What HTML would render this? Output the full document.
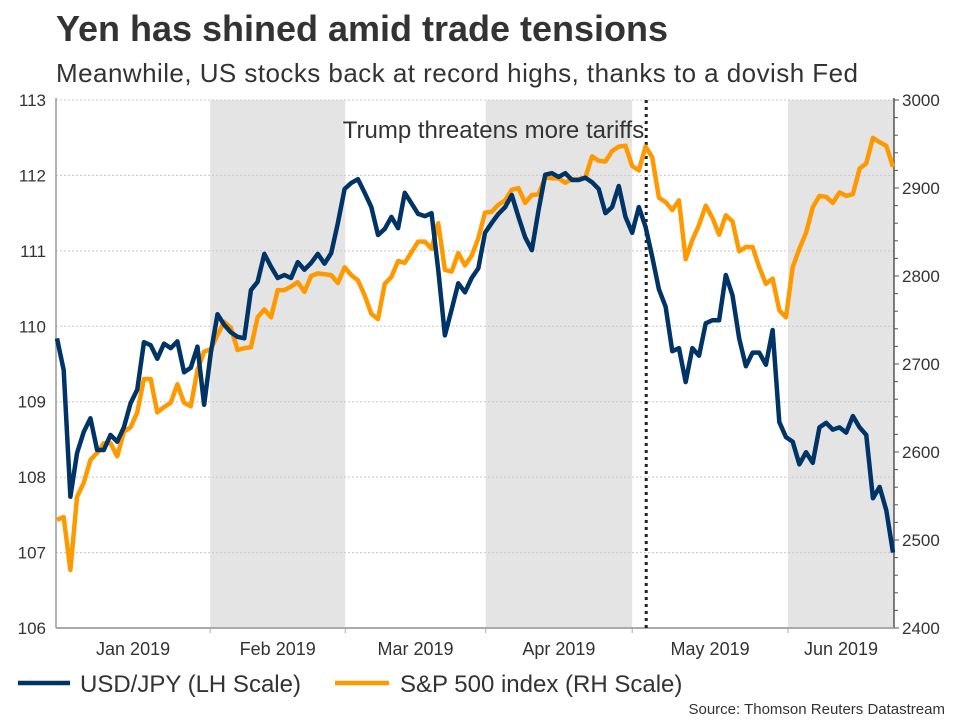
<!DOCTYPE html>
<html><head><meta charset="utf-8"><style>
body{margin:0;background:#fff;width:960px;height:720px;overflow:hidden;font-family:"Liberation Sans",Arial,sans-serif}
</style></head><body>
<svg id="chart" width="960" height="720" xmlns="http://www.w3.org/2000/svg" font-family="Liberation Sans, Arial, sans-serif">
<text x="56" y="41" font-size="36" font-weight="bold" fill="#333" textLength="612">Yen has shined amid trade tensions</text>
<text x="56" y="82" font-size="26" fill="#333" textLength="802">Meanwhile, US stocks back at record highs, thanks to a dovish Fed</text>
<g id="plot"></g>
<text x="945" y="714" font-size="15" text-anchor="end" fill="#333">Source: Thomson Reuters Datastream</text>
</svg>
<script>
const yen = [109.84,109.42,107.74,108.32,108.60,108.78,108.36,108.36,108.56,108.47,108.66,108.98,109.16,109.79,109.75,109.57,109.77,109.71,109.80,109.39,109.45,109.73,108.96,109.65,110.16,110.02,109.92,109.86,109.84,110.48,110.59,110.96,110.79,110.64,110.68,110.64,110.85,110.75,110.84,110.96,110.83,110.97,111.37,111.82,111.90,
111.95,111.77,111.58,111.21,111.29,111.45,111.30,111.77,111.63,111.49,111.46,111.50,110.75,109.88,110.22,110.57,110.45,110.64,110.77,111.24,111.37,111.49,111.58,111.74,111.45,111.18,111.01,111.54,112.01,112.03,111.98,112.03,111.94,111.94,111.97,111.91,111.82,111.50,111.58,111.86,111.45,111.24,
111.58,111.32,110.92,110.49,110.26,109.67,109.71,109.26,109.71,109.61,110.04,110.08,110.08,110.68,110.41,109.84,109.47,109.65,109.65,109.49,109.95,108.73,108.53,108.47,108.17,108.33,108.19,108.66,108.72,108.63,108.66,108.59,108.81,108.66,108.56,107.72,107.87,107.56,107.0];
const spx = [2523,2526,2466,2549,2565,2591,2599,2610,2610,2595,2623,2628,2645,2683,2683,2645,2651,2656,2677,2656,2652,2693,2714,2717,2733,2748,2741,2716,2718,2719,2753,2762,2753,2784,2784,2788,2793,2782,2800,2803,2802,2801,2792,2810,2801,
2795,2778,2757,2751,2791,2799,2817,2815,2827,2839,2839,2831,2860,2807,2805,2826,2812,2823,2843,2872,2873,2881,2886,2898,2900,2883,2892,2893,2912,2911,2911,2906,2910,2910,2912,2936,2931,2930,2942,2947,2948,2925,2920,
2947,2935,2889,2884,2875,2886,2819,2841,2858,2880,2866,2847,2869,2862,2828,2833,2833,2810,2791,2797,2761,2753,2810,2831,2849,2878,2891,2890,2883,2895,2891,2893,2922,2928,2957,2952,2948,2924];
const monthLabels = ["Jan 2019","Feb 2019","Mar 2019","Apr 2019","May 2019","Jun 2019"];
const monthStarts = [-0.5,22.9,43.1,64.1,86.0,109.3,125.5];
const shadedMonths = [1,3,5];
const leftTicks = [106,107,108,109,110,111,112,113];
const rightTicks = [2400,2500,2600,2700,2800,2900,3000];
const eventIndex = 88.1;

const NS="http://www.w3.org/2000/svg";
const g=document.getElementById('plot');
const X0=56,X1=894,Y0=100,Y1=628;
const n=yen.length;
const xs=i=>57+(i)*(893-57)/(n-1);
const yL=v=>Y1-(v-106)/(113-106)*(Y1-Y0);
const yR=v=>Y1-(v-2400)/(3000-2400)*(Y1-Y0);
function el(t,a){const e=document.createElementNS(NS,t);for(const k in a)e.setAttribute(k,a[k]);g.appendChild(e);return e;}

shadedMonths.forEach(m=>{
  const a=Math.max(X0,xs(monthStarts[m])), b=Math.min(X1,xs(monthStarts[m+1]));
  const r=el('rect',{x:a,y:Y0,width:b-a,height:Y1-Y0,fill:'#e4e4e4'});
  
  
});
leftTicks.forEach(v=>{
  const y=yL(v);
  const l=el('line',{x1:X0,x2:X1,y1:y,y2:y,stroke:'#c8c8c8','stroke-dasharray':'2,2','stroke-width':1});
  
  
  const t=el('text',{x:46,y:y+6,'font-size':17,'text-anchor':'end',fill:'#333'});
  t.textContent=v;
  
  
});
for(let v=2400;v<=3000;v+=20){
  const y=yR(v);
  const tk=el('line',{x1:X1,x2:X1+(v%100===0?5:4),y1:y,y2:y,stroke:'#555','stroke-width':1});
  
  
}
rightTicks.forEach(v=>{
  const t=el('text',{x:902,y:yR(v)+6,'font-size':17,fill:'#333'});
  t.textContent=v;
  
  
});
const la=el('line',{x1:X0,x2:X0,y1:Y0-2,y2:Y1,stroke:'#999','stroke-width':1.5});


const ra=el('line',{x1:X1,x2:X1,y1:Y0-2,y2:Y1,stroke:'#555','stroke-width':1.5});


const ba=el('line',{x1:X0,x2:X1,y1:Y1,y2:Y1,stroke:'#aaa','stroke-width':2});


monthLabels.forEach((m,i)=>{
  if(i>0){const tk=el('line',{x1:xs(monthStarts[i]),x2:xs(monthStarts[i]),y1:Y1,y2:Y1+5,stroke:'#aaa'});
  
  }
  const a=Math.max(X0,xs(monthStarts[i])), b=Math.min(X1,xs(monthStarts[i+1]));
  const t=el('text',{x:(a+b)/2,y:655,'font-size':18,'text-anchor':'middle',fill:'#333'});
  t.textContent=m;
  
  
});
const ev=el('line',{x1:xs(eventIndex),x2:xs(eventIndex),y1:Y0,y2:Y1,stroke:'#222','stroke-width':3,'stroke-dasharray':'3,4'});


const et=el('text',{x:xs(eventIndex)-2,y:138,'font-size':24,'text-anchor':'end',fill:'#333'});
et.textContent='Trump threatens more tariffs';



const ps=el('polyline',{points:spx.map((v,i)=>xs(i)+','+yR(v)).join(' '),fill:'none',stroke:'#ff9900','stroke-width':4.5,'stroke-linejoin':'round'});


const py=el('polyline',{points:yen.map((v,i)=>xs(i)+','+yL(v)).join(' '),fill:'none',stroke:'#003366','stroke-width':4.5,'stroke-linejoin':'round'});



const l1=el('line',{x1:18,x2:70,y1:683,y2:683,stroke:'#003366','stroke-width':4.5});


const t1=el('text',{x:80,y:692,'font-size':24,fill:'#333'});
t1.textContent='USD/JPY (LH Scale)';


const l2=el('line',{x1:335,x2:389,y1:683,y2:683,stroke:'#ff9900','stroke-width':4.5});


const t2=el('text',{x:400,y:692,'font-size':24,fill:'#333'});
t2.textContent='S&P 500 index (RH Scale)';


</script>
</body></html>
